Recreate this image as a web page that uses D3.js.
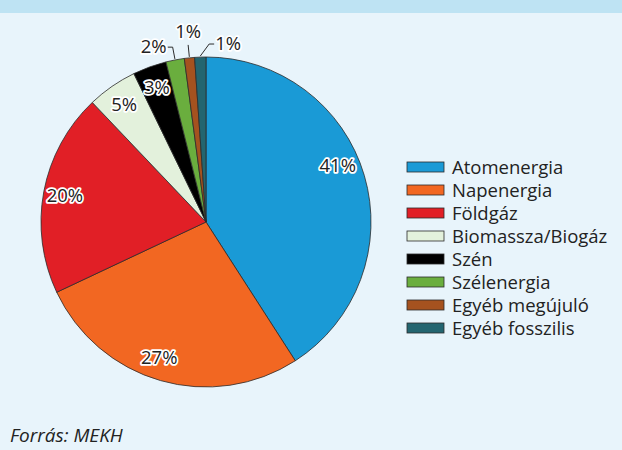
<!DOCTYPE html>
<html>
<head>
<meta charset="utf-8">
<script src="https://cdn.jsdelivr.net/npm/d3@7"></script>
<style>
  body { margin: 0; background: #e8f4fb; }
  svg { display: block; font-family: "Open Sans", sans-serif; }
</style>
</head>
<body>
<svg id="chart" width="622" height="450"></svg>
<script>
// energy mix, share in percent
const categories = ["Atomenergia", "Napenergia", "Földgáz", "Biomassza/Biogáz", "Szén", "Szélenergia", "Egyéb megújuló", "Egyéb fosszilis"];
const values = [40.9, 27.1, 19.9, 4.9, 3.3, 1.8, 1.0, 1.1];
const colors = ["#1a9ad6", "#f26722", "#e11f26", "#e3f1dc", "#000000", "#6aae3e", "#a5521f", "#236570"];
const source = "Forrás: MEKH";

let width = 622;
let height = 450;
let cx = 206, cy = 222, radius = 165;
let fontSize = 18.5;

let svg = d3.select("#chart");

// background and the (cut off) title band
svg.append("rect").attr("width", width).attr("height", height).attr("fill", "#e8f4fb");
svg.append("rect").attr("width", width).attr("height", 13).attr("fill", "#bee3f3");

let data = categories.map((c, i) => ({ name: c, value: values[i], color: colors[i] }));

let pie = d3.pie().value(d => d.value).sort(null);
let arcs = pie(data);
let arc = d3.arc().innerRadius(0).outerRadius(radius);

let g = svg.append("g").attr("transform", "translate(" + cx + "," + cy + ")");

g.selectAll("path.slice")
  .data(arcs)
  .enter().append("path")
  .attr("class", "slice")
  .attr("d", arc)
  .attr("fill", d => d.data.color)
  .attr("stroke", "#2b2b2b")
  .attr("stroke-width", 0.8);

function halo(sel) {
  sel.attr("font-size", fontSize)
    .attr("fill", "#222")
    .attr("stroke", "#fff")
    .attr("stroke-width", 3.5)
    .attr("stroke-linejoin", "round")
    .attr("paint-order", "stroke");
}

// big slices get their label inside, small angle nudges like excel's best fit
let innerNudge = [-7, 3, 0, 0, 0];
let inner = arcs.filter(d => d.data.value >= 2.5);
g.selectAll("text.inner")
  .data(inner)
  .enter().append("text")
  .attr("class", "inner")
  .attr("transform", (d, i) => {
    let a = (d.startAngle + d.endAngle) / 2 + innerNudge[i] * Math.PI / 180;
    let r = radius * 0.87;
    return "translate(" + (Math.sin(a) * r) + "," + (-Math.cos(a) * r) + ")";
  })
  .attr("text-anchor", "middle")
  .attr("dy", "0.35em")
  .call(halo)
  .text(d => Math.round(d.data.value) + "%");

// small slices: label outside with a leader line
let sides = [-1, 0, 1];
let outerNudge = [0, 0, 3];
let outer = arcs.filter(d => d.data.value < 2.5);
outer.forEach((d, i) => {
  let mid = (d.startAngle + d.endAngle) / 2;
  let la = mid + outerNudge[i] * Math.PI / 180;
  let r1 = radius + 1;
  let r2 = radius + 13;
  let side = sides[i];
  let p0 = [Math.sin(mid) * r1, -Math.cos(mid) * r1];
  let p1 = [Math.sin(la) * r2, -Math.cos(la) * r2];
  let p2 = [p1[0] + side * 5, p1[1]];
  g.append("polyline")
    .attr("points", [p0, p1, p2].map(p => p.join(",")).join(" "))
    .attr("fill", "none")
    .attr("stroke", "#2b2b2b")
    .attr("stroke-width", 1);
  g.append("text")
    .attr("x", p2[0] + side * 1)
    .attr("y", side == 0 ? p1[1] - 7 : p1[1] + 6)
    .attr("text-anchor", side < 0 ? "end" : (side > 0 ? "start" : "middle"))
    .call(halo)
    .text(Math.round(d.data.value) + "%");
});

// legend
let legend = svg.append("g").attr("transform", "translate(407,162)");
let rows = legend.selectAll("g")
  .data(data)
  .enter().append("g")
  .attr("transform", (d, i) => "translate(0," + (i * 23) + ")");
rows.append("rect")
  .attr("width", 37)
  .attr("height", 10)
  .attr("fill", d => d.color)
  .attr("stroke", "#2b2b2b")
  .attr("stroke-width", 0.8);
rows.append("text")
  .attr("x", 45)
  .attr("y", 11.5)
  .attr("font-size", fontSize)
  .attr("fill", "#222")
  .text(d => d.name);

svg.append("text")
  .attr("x", 10)
  .attr("y", 442)
  .attr("font-size", 19)
  .attr("font-style", "italic")
  .attr("fill", "#222")
  .text(source);
</script>
</body>
</html>
